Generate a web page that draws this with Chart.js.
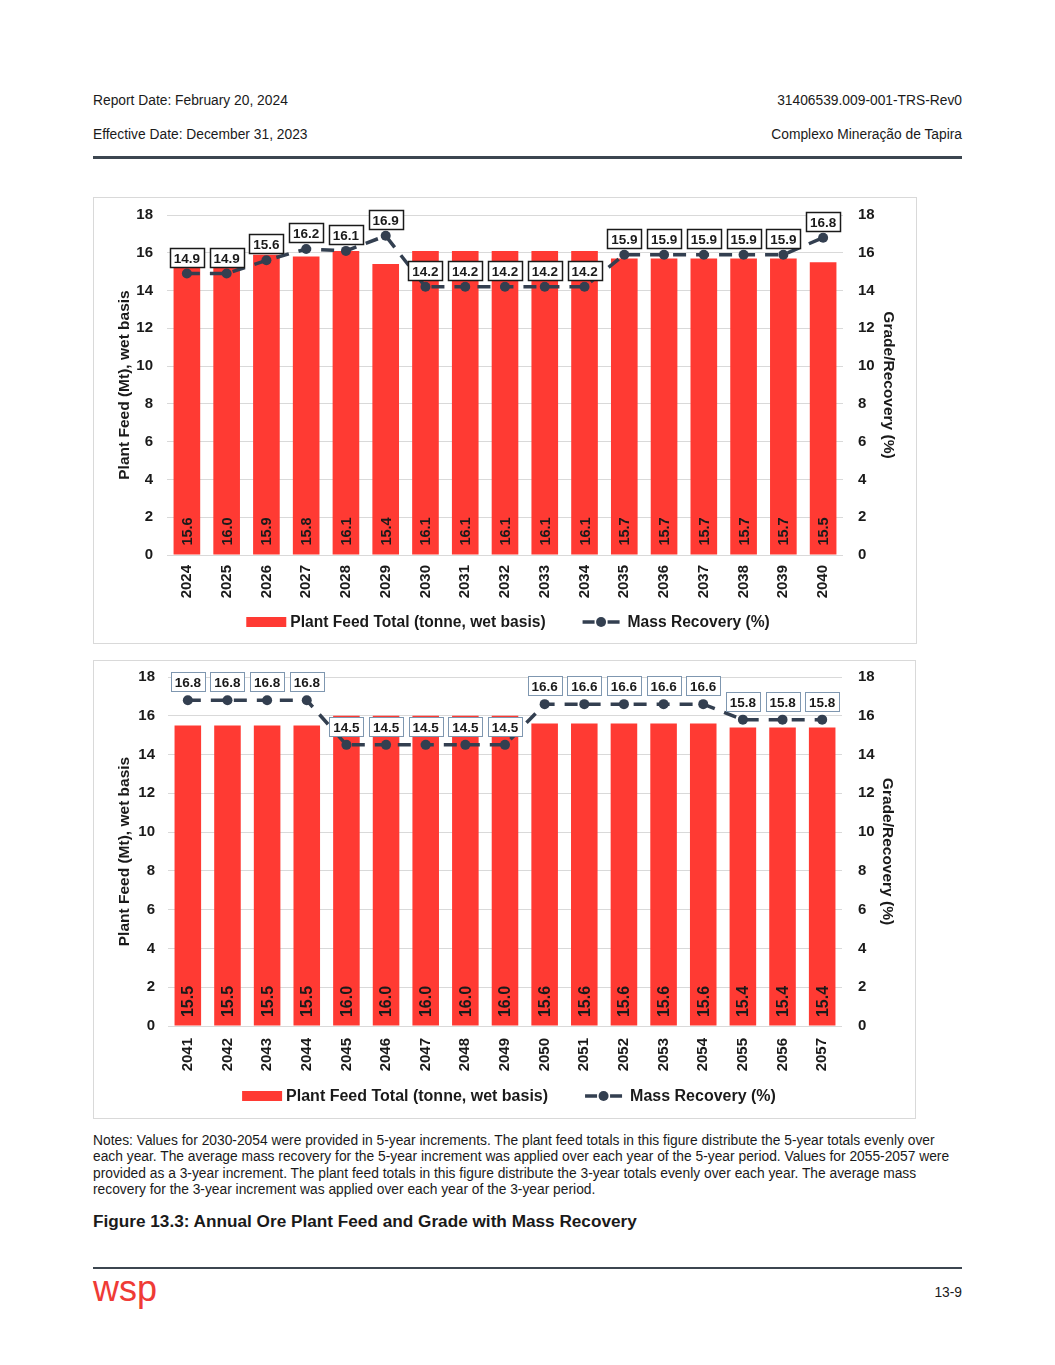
<!DOCTYPE html>
<html>
<head>
<meta charset="utf-8">
<script src="https://cdn.jsdelivr.net/npm/chart.js@4.4.1/dist/chart.umd.min.js"></script>
<style>
  body { margin: 0; background: #fff; font-family: "Liberation Sans", Arial, sans-serif; color: #1a1a1a; }
  #page { position: relative; width: 1055px; height: 1365px; }
  .txt { position: absolute; font-size: 13.8px; white-space: nowrap; line-height: 16.4px; }
  .rule { position: absolute; left: 93px; width: 869px; background: #3c4650; }
  .box { position: absolute; border: 1px solid #d9d9d9; }
</style>
</head>
<body>
<div id="page">
  <div class="txt" style="left:93px;top:93px;">Report Date: February 20, 2024</div>
  <div class="txt" style="right:93px;top:93px;">31406539.009-001-TRS-Rev0</div>
  <div class="txt" style="left:93px;top:127px;">Effective Date: December 31, 2023</div>
  <div class="txt" style="right:93px;top:127px;">Complexo Mineração de Tapira</div>
  <div class="rule" style="top:156px;height:3px;"></div>

  <div class="box" style="left:93px;top:197px;width:822px;height:445px;"><canvas id="chart1"></canvas></div>
  <div class="box" style="left:93px;top:660px;width:821px;height:457px;"><canvas id="chart2"></canvas></div>

  <div class="txt" style="left:93px;top:1133px;">Notes: Values for 2030-2054 were provided in 5-year increments. The plant feed totals in this figure distribute the 5-year totals evenly over<br>each year. The average mass recovery for the 5-year increment was applied over each year of the 5-year period. Values for 2055-2057 were<br>provided as a 3-year increment. The plant feed totals in this figure distribute the 3-year totals evenly over each year. The average mass<br>recovery for the 3-year increment was applied over each year of the 3-year period.</div>
  <div class="txt" style="left:93px;top:1211px;font-size:17.2px;font-weight:bold;line-height:20px;">Figure 13.3: Annual Ore Plant Feed and Grade with Mass Recovery</div>

  <div class="rule" style="top:1267px;height:2px;"></div>
  <div class="txt" style="left:93px;top:1271px;font-size:36px;line-height:36px;color:#ef3b36;letter-spacing:0px;">wsp</div>
  <div class="txt" style="right:93px;top:1285px;">13-9</div>
</div>

<script>
// first chart: 2024-2040
const years1 = ['2024','2025','2026','2027','2028','2029','2030','2031','2032','2033','2034','2035','2036','2037','2038','2039','2040'];
const feed1 = [15.6, 16.0, 15.9, 15.8, 16.1, 15.4, 16.1, 16.1, 16.1, 16.1, 16.1, 15.7, 15.7, 15.7, 15.7, 15.7, 15.5];
const recovery1 = [14.9, 14.9, 15.6, 16.2, 16.1, 16.9, 14.2, 14.2, 14.2, 14.2, 14.2, 15.9, 15.9, 15.9, 15.9, 15.9, 16.8];

// second chart: 2041-2057
const years2 = ['2041','2042','2043','2044','2045','2046','2047','2048','2049','2050','2051','2052','2053','2054','2055','2056','2057'];
const feed2 = [15.5, 15.5, 15.5, 15.5, 16.0, 16.0, 16.0, 16.0, 16.0, 15.6, 15.6, 15.6, 15.6, 15.6, 15.4, 15.4, 15.4];
const recovery2 = [16.8, 16.8, 16.8, 16.8, 14.5, 14.5, 14.5, 14.5, 14.5, 16.6, 16.6, 16.6, 16.6, 16.6, 15.8, 15.8, 15.8];

const axisMin = 0;
const axisMax = 18;
const axisStep = 2;

const feedLabel = 'Plant Feed Total (tonne, wet basis)';
const recoveryLabel = 'Mass Recovery (%)';

const FONT = '"Liberation Sans", Arial, sans-serif';
const RED = '#ff3a33';
const SLATE = '#333f50';
const INK = '#1a1a1a';

// value labels: inside bars (rotated) and boxed over the line points
const valueLabels = {
  id: 'valueLabels',
  afterDatasetsDraw(chart, args, opts) {
    const ctx = chart.ctx;
    const bars = chart.getDatasetMeta(0).data;
    const pts = chart.getDatasetMeta(1).data;
    ctx.save();
    ctx.textAlign = 'center';
    ctx.textBaseline = 'middle';
    ctx.fillStyle = INK;
    ctx.font = `bold ${opts.barFont}px ${FONT}`;
    bars.forEach((bar, i) => {
      const v = chart.data.datasets[0].data[i];
      ctx.save();
      ctx.translate(bar.x, bar.base - opts.barOffset);
      ctx.rotate(-Math.PI / 2);
      ctx.fillText(v.toFixed(1), 0, 1);
      ctx.restore();
    });

    ctx.font = `bold ${opts.boxFont}px ${FONT}`;
    pts.forEach((pt, i) => {
      const txt = chart.data.datasets[1].data[i].toFixed(1);
      const w = Math.round(ctx.measureText(txt).width + 8);
      const h = 19;
      const x = Math.round(pt.x - w / 2) + 0.5;
      const y = Math.round(pt.y - opts.boxGap - h) + 0.5;
      ctx.fillStyle = '#fff';
      ctx.fillRect(x, y, w, h);
      ctx.lineWidth = opts.boxLine;
      ctx.strokeStyle = opts.boxColor;
      ctx.strokeRect(x, y, w, h);
      ctx.fillStyle = INK;
      ctx.fillText(txt, pt.x, y + h / 2 + 1);
    });
    ctx.restore();
  }
};

// legend drawn under the axis: red block + dashed line with dot
const bottomLegend = {
  id: 'bottomLegend',
  afterDraw(chart, args, opts) {
    const ctx = chart.ctx;
    const ds = chart.data.datasets;
    ctx.save();
    ctx.font = `bold ${opts.size}px ${FONT}`;
    ctx.textBaseline = 'middle';
    ctx.textAlign = 'left';
    const w1 = ctx.measureText(ds[0].label).width;
    const w2 = ctx.measureText(ds[1].label).width;
    const total = 40 + 4 + w1 + 37 + 37 + 8 + w2;
    let x = opts.center - total / 2;
    const y = opts.y;

    ctx.fillStyle = ds[0].backgroundColor;
    ctx.fillRect(x, y - 5, 40, 10);
    x += 44;
    ctx.fillStyle = INK;
    ctx.fillText(ds[0].label, x, y + 1);
    x += w1 + 37;

    ctx.strokeStyle = ds[1].borderColor;
    ctx.lineWidth = 3.5;
    ctx.beginPath();
    ctx.moveTo(x, y); ctx.lineTo(x + 12, y);
    ctx.moveTo(x + 25, y); ctx.lineTo(x + 37, y);
    ctx.stroke();
    ctx.fillStyle = ds[1].borderColor;
    ctx.beginPath();
    ctx.arc(x + 18.5, y, 5, 0, Math.PI * 2);
    ctx.fill();
    x += 45;
    ctx.fillStyle = INK;
    ctx.fillText(ds[1].label, x, y + 1);
    ctx.restore();
  }
};

function makeChart(id, years, feed, recovery, g) {
  const tickFont = { family: FONT, size: 15, weight: 'bold' };
  const titleFont = { family: FONT, size: 15.5, weight: 'bold' };
  // fixed axis widths; drop the tick-label overhang so the plot top follows layout padding
  const fixAxis = w => s => { s.width = w; s.paddingTop = 0; s.paddingBottom = 0; };
  return new Chart(document.getElementById(id), {
    type: 'bar',
    data: {
      labels: years,
      datasets: [
        {
          type: 'bar',
          label: feedLabel,
          data: feed,
          yAxisID: 'y',
          backgroundColor: RED,
          barPercentage: 0.67,
          categoryPercentage: 1,
          order: 1
        },
        {
          type: 'line',
          label: recoveryLabel,
          data: recovery,
          yAxisID: 'y1',
          borderColor: SLATE,
          backgroundColor: SLATE,
          borderWidth: 3.5,
          borderDash: [13, 10],
          pointRadius: 5,
          pointBorderWidth: 0,
          pointBackgroundColor: SLATE,
          fill: false,
          tension: 0,
          order: 0
        }
      ]
    },
    plugins: [valueLabels, bottomLegend],
    options: {
      responsive: true,
      maintainAspectRatio: false,
      animation: false,
      layout: { padding: { top: g.top, bottom: g.bottom, left: 0, right: 0 } },
      plugins: {
        legend: { display: false },
        tooltip: { enabled: false },
        valueLabels: g.labels,
        bottomLegend: g.legend
      },
      scales: {
        x: {
          grid: { display: false },
          border: { display: false },
          ticks: { color: INK, font: tickFont, maxRotation: 90, minRotation: 90, padding: g.xPad, autoSkip: false },
          afterFit(s) { s.height = g.xHeight; }
        },
        y: {
          position: 'left',
          min: axisMin, max: axisMax,
          ticks: { stepSize: axisStep, color: INK, font: tickFont, padding: g.leftPad },
          grid: { color: '#d9d9d9', lineWidth: 1, drawTicks: false },
          border: { display: false },
          title: { display: true, text: 'Plant Feed (Mt), wet basis', color: INK, font: titleFont, padding: { top: 21, bottom: 0 } },
          afterFit: fixAxis(g.leftW)
        },
        y1: {
          position: 'right',
          min: axisMin, max: axisMax,
          ticks: { stepSize: axisStep, color: INK, font: tickFont, padding: g.rightPad },
          grid: { display: false, drawTicks: false },
          border: { display: false },
          title: { display: true, text: 'Grade/Recovery (%)', color: INK, font: titleFont, padding: { top: 18, bottom: 0 } },
          afterFit: fixAxis(g.rightW)
        }
      }
    }
  });
}

makeChart('chart1', years1, feed1, recovery1, {
  top: 17, bottom: 36, xHeight: 52, xPad: 2,
  leftW: 73, rightW: 73, leftPad: 14, rightPad: 15,
  labels: { barFont: 14.5, barOffset: 23, boxFont: 13.5, boxGap: 7, boxLine: 1.5, boxColor: '#1a1a1a' },
  legend: { size: 15.6, y: 424, center: 414 }
});

makeChart('chart2', years2, feed2, recovery2, {
  top: 16, bottom: 36, xHeight: 56, xPad: 4,
  leftW: 74, rightW: 73, leftPad: 13, rightPad: 16,
  labels: { barFont: 16, barOffset: 24, boxFont: 13.5, boxGap: 9, boxLine: 1, boxColor: '#7f97b0' },
  legend: { size: 16, y: 435, center: 415 }
});
</script>
</body>
</html>
